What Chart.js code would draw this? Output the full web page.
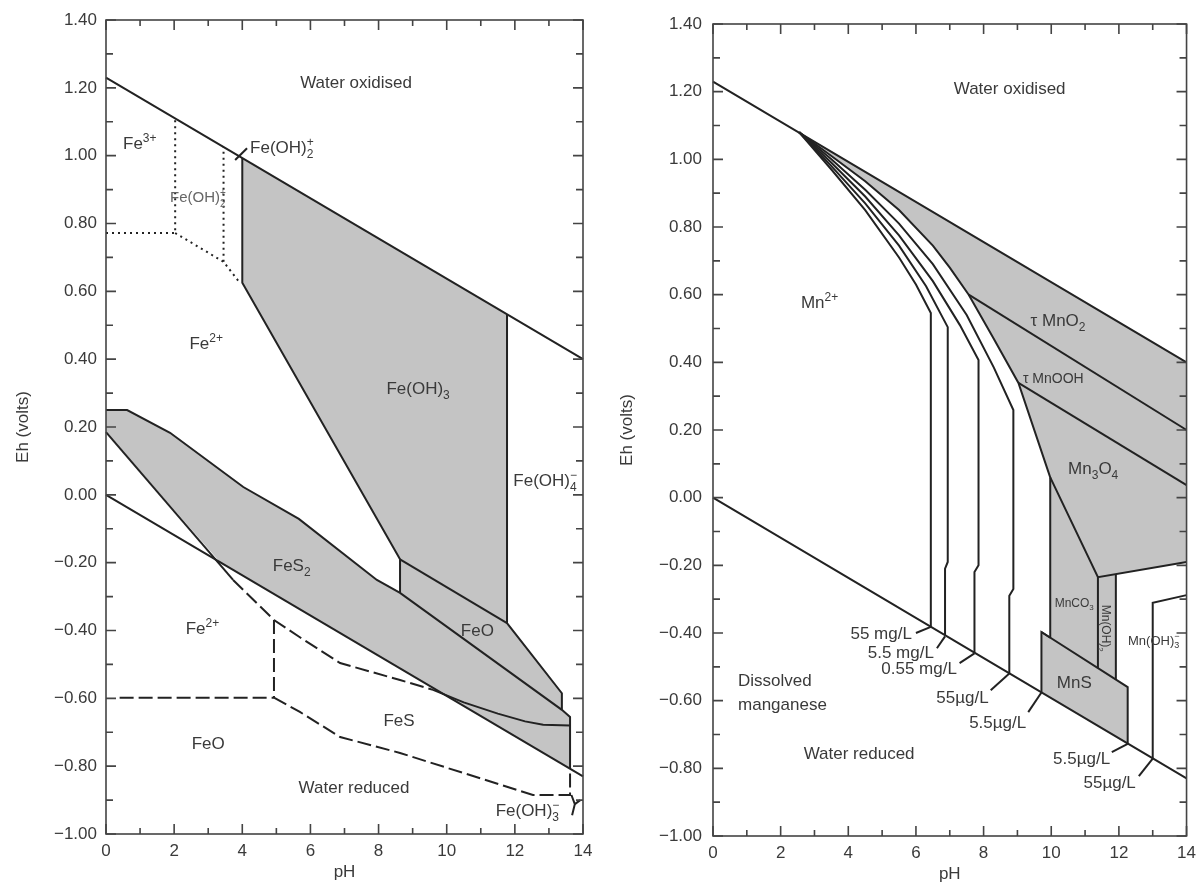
<!DOCTYPE html>
<html>
<head>
<meta charset="utf-8">
<title>Eh-pH diagrams: iron and manganese</title>
<script src="https://cdn.jsdelivr.net/npm/chart.js@4.4.1/dist/chart.umd.min.js"></script>
<style>
  html, body { margin: 0; padding: 0; background: #fff; }
  #wrap { position: relative; width: 1203px; height: 887px; }
  canvas { position: absolute; top: 0; }
</style>
</head>
<body>
<div id="wrap">
  <canvas id="feChart" width="600" height="887" style="left:0"></canvas>
  <canvas id="mnChart" width="603" height="887" style="left:600px"></canvas>
</div>
<script>
// all boundaries as [pH, Eh (volts)]

// water stability limits (same on both panels)
const waterUpper = [[0, 1.23], [14, 0.40]];
const waterLower = [[0, 0.00], [14, -0.83]];

// ---- iron panel ----
const feOH3Area = [[4.0, 0.993], [11.77, 0.532], [11.77, -0.378], [8.63, -0.19], [4.0, 0.625]];
const feOArea = [[8.63, -0.19], [11.77, -0.378], [13.38, -0.585], [13.38, -0.634], [8.63, -0.289]];
const feS2Area = [[0, 0.25], [0.62, 0.25], [1.88, 0.183], [4.03, 0.023], [5.66, -0.071], [7.95, -0.251],
                  [8.63, -0.289], [13.38, -0.634], [13.62, -0.655], [13.62, -0.808], [3.35, -0.199], [0, 0.185]];

const feOH3Left = [[4.0, 0.993], [4.0, 0.625], [8.63, -0.19], [8.63, -0.289]];
const feOH3Right = [[11.77, 0.532], [11.77, -0.378], [13.38, -0.585], [13.38, -0.634]];
const feOTop = [[8.63, -0.19], [11.77, -0.378]];
const feS2Upper = [[0, 0.25], [0.62, 0.25], [1.88, 0.183], [4.03, 0.023], [5.66, -0.071], [7.95, -0.251],
                   [8.63, -0.289], [13.38, -0.634], [13.62, -0.655], [13.62, -0.808]];
const feS2Lower = [[0, 0.185], [3.73, -0.251]];
const feSCurve = [[9.6, -0.575], [10.5, -0.612], [11.5, -0.645], [12.3, -0.668], [12.83, -0.678], [13.62, -0.68]];

const feDashUpper = [[3.73, -0.251], [4.93, -0.369], [5.69, -0.42], [6.87, -0.496], [8.63, -0.546], [9.6, -0.575]];
const feDashStep = [[4.93, -0.369], [4.93, -0.598]];
const feDashFlat = [[0.4, -0.598], [4.93, -0.598]];
const feDashLower = [[4.93, -0.598], [5.69, -0.64], [6.87, -0.714], [8.63, -0.761], [12.53, -0.885],
                     [13.62, -0.885], [13.62, -0.808]];

const feDotFlat = [[0, 0.772], [2.03, 0.772], [2.03, 1.11]];
const feDotSlope = [[2.03, 0.772], [3.45, 0.687], [3.93, 0.625]];
const feDotRise = [[3.45, 0.687], [3.45, 1.025]];

const feLeaderTop = [[3.79, 0.987], [4.14, 1.022]];
const feLeaderBottom = [[13.66, -0.885], [13.76, -0.912], [13.68, -0.945]];
const feLeaderBottom2 = [[13.76, -0.912], [13.92, -0.9]];

// ---- manganese panel ----
const mn55mg = [[2.55, 1.08], [3.5, 0.97], [4.5, 0.85], [5.5, 0.71], [6.0, 0.63], [6.44, 0.546], [6.44, -0.382]];
const mn5p5mg = [[2.55, 1.08], [3.5, 0.98], [4.5, 0.87], [5.5, 0.745], [6.3, 0.625], [6.94, 0.504],
                 [6.94, -0.19], [6.86, -0.21], [6.86, -0.407]];
const mn0p55mg = [[2.55, 1.08], [3.5, 0.99], [4.5, 0.89], [5.5, 0.775], [6.5, 0.64], [7.3, 0.51], [7.85, 0.407],
                  [7.85, -0.2], [7.73, -0.22], [7.73, -0.458]];
const mn55ug = [[2.55, 1.08], [3.5, 1.0], [4.5, 0.91], [5.5, 0.81], [6.5, 0.69], [7.5, 0.54], [8.3, 0.385],
                [8.88, 0.259], [8.88, -0.27], [8.76, -0.29], [8.76, -0.519]];
const mn5p5ug = [[2.55, 1.08], [3.5, 1.01], [4.5, 0.935], [5.5, 0.85], [6.5, 0.745], [7.0, 0.68], [7.56, 0.60],
                 [8.3, 0.47], [9.03, 0.339], [9.97, 0.06], [9.97, -0.414]];

const mnSolidArea = [[2.55, 1.08], [14, 0.40], [14, -0.19], [11.91, -0.226], [11.91, -0.537], [12.26, -0.56],
                     [12.26, -0.727], [9.71, -0.576], [9.71, -0.397], [9.97, -0.414], [9.97, 0.06], [9.03, 0.339],
                     [8.3, 0.47], [7.56, 0.60], [7.0, 0.68], [6.5, 0.745], [5.5, 0.85], [4.5, 0.935], [3.5, 1.01]];

const mnO2Lower = [[7.56, 0.60], [14, 0.20]];
const mnOOHLower = [[9.03, 0.339], [14, 0.037]];
const mn3O4Lower = [[9.97, 0.06], [11.38, -0.235], [14, -0.19]];
const mnCO3Right = [[11.38, -0.235], [11.38, -0.504]];
const mnOH2Right = [[11.91, -0.226], [11.91, -0.537]];
const mnSLeft = [[9.97, -0.414], [9.71, -0.397], [9.71, -0.576]];
const mnSTop = [[9.71, -0.397], [12.26, -0.56], [12.26, -0.727]];
const mnOH3Box = [[13.0, -0.771], [13.0, -0.311], [14, -0.288]];

const mnLeaders = [
  [[6.0, -0.40], [6.44, -0.382]],
  [[6.62, -0.445], [6.86, -0.41]],
  [[7.29, -0.489], [7.73, -0.46]],
  [[8.21, -0.569], [8.76, -0.52]],
  [[9.32, -0.634], [9.71, -0.576]],
  [[11.79, -0.752], [12.26, -0.728]],
  [[12.59, -0.823], [13.0, -0.771]]
];

// ---- styling ----
const FONT = "'Liberation Sans', Arial, sans-serif";
const INK = '#222';
const TEXT = '#3a3a3a';
const GREY = '#c4c4c4';

function pts(arr) {
  return arr.map(p => ({x: p[0], y: p[1]}));
}

function area(arr) {
  return {data: pts(arr), fill: 'shape', backgroundColor: GREY, borderColor: 'rgba(0,0,0,0)',
          borderWidth: 0, pointRadius: 0, tension: 0, order: 10};
}

function line(arr, dash) {
  return {data: pts(arr), fill: false, borderColor: INK, borderWidth: 2, borderDash: dash || [],
          pointRadius: 0, tension: 0, order: 1, clip: false};
}

const DASH = [14, 5];
const DOT = [2, 4];

// text with _{sub} and ^{sup}; a sub directly followed by a sup is stacked
function parseRich(s) {
  const out = [];
  const re = /([_^])\{([^}]*)\}/g;
  let last = 0, m;
  while ((m = re.exec(s))) {
    if (m.index > last) out.push({t: s.slice(last, m.index)});
    const key = m[1] === '_' ? 'sub' : 'sup';
    const prev = out[out.length - 1];
    if (prev && prev.script && !prev[key] && m.index === last) prev[key] = m[2];
    else out.push({script: true, [key]: m[2]});
    last = re.lastIndex;
  }
  if (last < s.length) out.push({t: s.slice(last)});
  return out;
}

function drawRich(ctx, s, px, py, l) {
  const size = l.size || 17;
  const small = Math.round(size * 0.68);
  const big = size + "px " + FONT, little = small + "px " + FONT;
  const parts = parseRich(s);
  let w = 0;
  parts.forEach(p => {
    if (p.script) {
      ctx.font = little;
      p.w = Math.max(p.sub ? ctx.measureText(p.sub).width : 0, p.sup ? ctx.measureText(p.sup).width : 0);
    } else {
      ctx.font = big;
      p.w = ctx.measureText(p.t).width;
    }
    w += p.w;
  });
  ctx.save();
  ctx.translate(px, py);
  if (l.rotate) ctx.rotate(l.rotate * Math.PI / 180);
  ctx.fillStyle = l.color || TEXT;
  ctx.textBaseline = 'alphabetic';
  ctx.textAlign = 'left';
  let cx = l.align === 'left' ? 0 : l.align === 'right' ? -w : -w / 2;
  const base = size * 0.36;
  parts.forEach(p => {
    if (p.script) {
      ctx.font = little;
      if (p.sub) ctx.fillText(p.sub, cx, base + size * 0.28);
      if (p.sup) ctx.fillText(p.sup, cx, base - size * 0.42);
    } else {
      ctx.font = big;
      ctx.fillText(p.t, cx, base);
    }
    cx += p.w;
  });
  ctx.restore();
}

const labelPlugin = {
  id: 'labels',
  afterDatasetsDraw(chart, args, opts) {
    const {ctx, scales: {x, y}} = chart;
    (opts.items || []).forEach(l => {
      drawRich(ctx, l.text, x.getPixelForValue(l.at[0]), y.getPixelForValue(l.at[1]), l);
    });
  }
};

// box round the plot with inward tick marks on all four sides
const framePlugin = {
  id: 'frame',
  afterDatasetsDraw(chart) {
    const {ctx, chartArea: a, scales: {x, y}} = chart;
    ctx.save();
    ctx.strokeStyle = '#444';
    ctx.lineWidth = 1.6;
    ctx.strokeRect(a.left, a.top, a.right - a.left, a.bottom - a.top);
    ctx.beginPath();
    for (let i = 0; i <= 14; i++) {
      const px = x.getPixelForValue(i);
      const len = i % 2 ? 6 : 10;
      ctx.moveTo(px, a.bottom); ctx.lineTo(px, a.bottom - len);
      ctx.moveTo(px, a.top); ctx.lineTo(px, a.top + len);
    }
    for (let k = -10; k <= 14; k++) {
      const py = y.getPixelForValue(k / 10);
      const len = k % 2 ? 7 : 10;
      ctx.moveTo(a.left, py); ctx.lineTo(a.left + len, py);
      ctx.moveTo(a.right, py); ctx.lineTo(a.right - len, py);
    }
    ctx.stroke();
    ctx.restore();
  }
};

function makeChart(id, datasets, labels, g) {
  const font = {family: FONT, size: 17};
  return new Chart(document.getElementById(id), {
    type: 'line',
    data: {datasets: datasets},
    options: {
      responsive: false,
      animation: false,
      events: [],
      layout: {autoPadding: false, padding: g.padding},
      plugins: {
        legend: {display: false},
        tooltip: {enabled: false},
        labels: {items: labels}
      },
      scales: {
        x: {
          type: 'linear', min: 0, max: 14,
          afterFit: s => { s.height = g.xHeight; },
          grid: {display: false, drawTicks: false},
          border: {display: false},
          ticks: {stepSize: 2, padding: g.xPad, color: TEXT, font: font, maxRotation: 0, autoSkip: false},
          title: {display: true, text: 'pH', color: TEXT, font: font, padding: {top: 0, bottom: g.xTitle}}
        },
        y: {
          type: 'linear', min: -1, max: 1.4,
          afterFit: s => { s.width = g.yWidth; },
          grid: {display: false, drawTicks: false},
          border: {display: false},
          ticks: {
            stepSize: 0.2, padding: g.yPad, color: TEXT, font: font, autoSkip: false,
            callback: v => (Math.abs(v) < 1e-9 ? 0 : v).toFixed(2).replace('-', '\u2212')
          },
          title: {display: true, text: 'Eh (volts)', color: TEXT, font: font, padding: {top: g.yTitle, bottom: 0}}
        }
      }
    },
    plugins: [framePlugin, labelPlugin]
  });
}

makeChart('feChart', [
  area(feOH3Area), area(feOArea), area(feS2Area),
  line(waterUpper), line(waterLower),
  line(feOH3Left), line(feOH3Right), line(feOTop),
  line(feS2Upper), line(feS2Lower), line(feSCurve),
  line(feDashUpper, DASH), line(feDashStep, DASH), line(feDashFlat, DASH), line(feDashLower, DASH),
  line(feDotFlat, DOT), line(feDotSlope, DOT), line(feDotRise, DOT),
  line(feLeaderTop), line(feLeaderBottom), line(feLeaderBottom2)
], [
  {text: 'Water oxidised', at: [7.34, 1.217]},
  {text: 'Fe^{3+}', at: [0.5, 1.037], align: 'left'},
  {text: 'Fe(OH)_{2}^{+}', at: [4.23, 1.026], align: 'left'},
  {text: 'Fe(OH)_{2}^{+}', at: [1.88, 0.878], align: 'left', size: 15, color: '#666'},
  {text: 'Fe^{2+}', at: [2.94, 0.448]},
  {text: 'Fe(OH)_{3}', at: [9.16, 0.315]},
  {text: 'Fe(OH)_{4}^{\u2212}', at: [12.89, 0.044]},
  {text: 'FeS_{2}', at: [5.45, -0.207]},
  {text: 'FeO', at: [10.9, -0.398]},
  {text: 'Fe^{2+}', at: [2.83, -0.392]},
  {text: 'FeO', at: [3.0, -0.731]},
  {text: 'FeS', at: [8.6, -0.664]},
  {text: 'Water reduced', at: [7.28, -0.861]},
  {text: 'Fe(OH)_{3}^{\u2212}', at: [12.37, -0.929]}
], {padding: {left: 0, top: 20, right: 17, bottom: 3}, xHeight: 50, yWidth: 106, xPad: 7, yPad: 9, xTitle: 1, yTitle: 13});

makeChart('mnChart', [
  area(mnSolidArea),
  line(waterUpper), line(waterLower),
  line(mn55mg), line(mn5p5mg), line(mn0p55mg), line(mn55ug), line(mn5p5ug),
  line(mnO2Lower), line(mnOOHLower), line(mn3O4Lower), line(mnCO3Right), line(mnOH2Right),
  line(mnSLeft), line(mnSTop), line(mnOH3Box)
].concat(mnLeaders.map(l => line(l))), [
  {text: 'Water oxidised', at: [8.77, 1.211]},
  {text: 'Mn^{2+}', at: [3.15, 0.578]},
  {text: '\u03c4 MnO_{2}', at: [10.2, 0.525]},
  {text: '\u03c4 MnOOH', at: [10.06, 0.354], size: 14},
  {text: 'Mn_{3}O_{4}', at: [11.24, 0.088]},
  {text: 'MnCO_{3}', at: [10.68, -0.309], size: 12},
  {text: 'Mn(OH)_{2}', at: [11.62, -0.386], size: 12, rotate: 90},
  {text: 'Mn(OH)_{3}^{\u2212}', at: [13.03, -0.421], size: 13},
  {text: 'MnS', at: [10.68, -0.545]},
  {text: 'Dissolved', at: [0.74, -0.539], align: 'left'},
  {text: 'manganese', at: [0.74, -0.61], align: 'left'},
  {text: 'Water reduced', at: [4.32, -0.755]},
  {text: '55 mg/L', at: [5.88, -0.40], align: 'right'},
  {text: '5.5 mg/L', at: [6.53, -0.456], align: 'right'},
  {text: '0.55 mg/L', at: [7.21, -0.504], align: 'right'},
  {text: '55\u00b5g/L', at: [8.15, -0.589], align: 'right'},
  {text: '5.5\u00b5g/L', at: [9.26, -0.663], align: 'right'},
  {text: '5.5\u00b5g/L', at: [11.74, -0.770], align: 'right'},
  {text: '55\u00b5g/L', at: [12.5, -0.841], align: 'right'}
], {padding: {left: 0, top: 24, right: 14, bottom: 0}, xHeight: 51, yWidth: 113, xPad: 7, yPad: 11, xTitle: 2, yTitle: 17});
</script>
</body>
</html>
